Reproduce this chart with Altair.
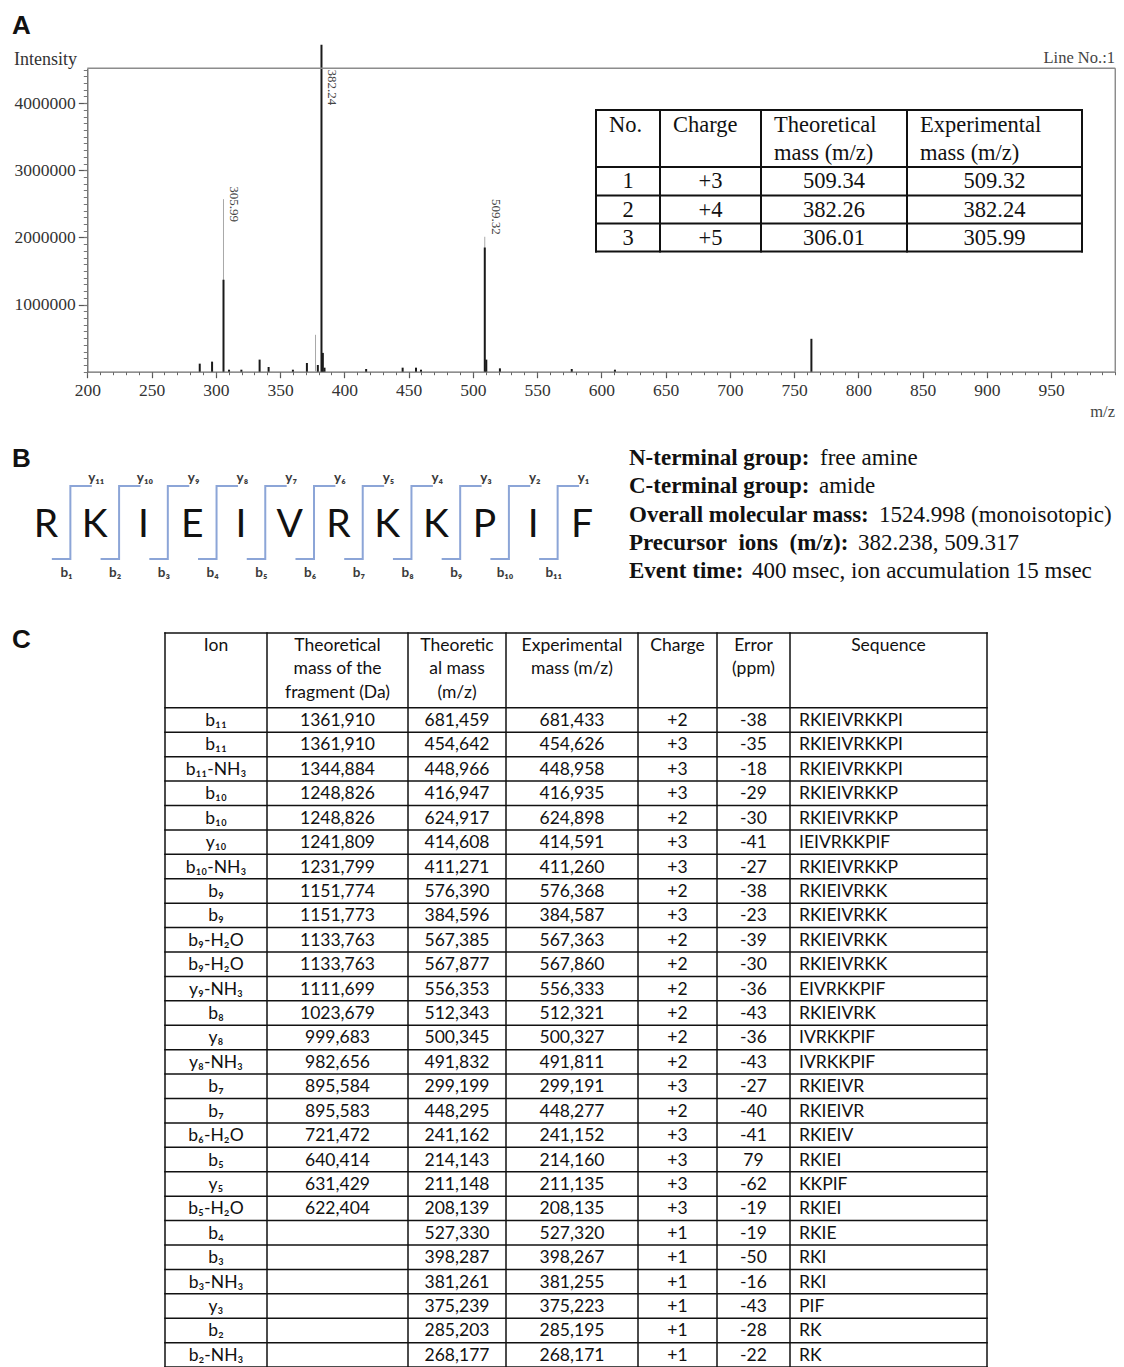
import altair as alt
import pandas as pd

# ============ DATA ============
# Panel A : MS spectrum (m/z, intensity)
profile_mz = [305.99, 377.6, 509.32]
profile_int = [2570000, 550000, 2010000]
centroid_mz = [287.5, 297.1, 305.99, 310.3, 319.9, 334.1, 341.1, 360.0, 370.9, 379.4,
               382.24, 383.3, 384.6, 417.0, 445.4, 455.8, 459.7, 509.32, 510.5, 521.1,
               577.0, 610.6, 763.5]
centroid_int = [120000, 150000, 1370000, 30000, 30000, 180000, 70000, 30000, 130000, 100000,
                4870000, 280000, 60000, 40000, 60000, 60000, 30000, 1850000, 180000, 50000,
                40000, 30000, 490000]
peak_labels = ["305.99", "382.24", "509.32"]
peak_label_mz = [305.99, 382.24, 509.32]
peak_label_int = [2230000, 3970000, 2040000]
x_ticks = list(range(200, 951, 50))
y_ticks = [1000000, 2000000, 3000000, 4000000]

# Panel A inset table
prec_head_1 = ["No.", "Charge", "Theoretical", "Experimental"]
prec_head_2 = ["", "", "mass (m/z)", "mass (m/z)"]
prec_no = ["1", "2", "3"]
prec_charge = ["+3", "+4", "+5"]
prec_theo = ["509.34", "382.26", "306.01"]
prec_exp = ["509.32", "382.24", "305.99"]

# Panel B
sequence = list("RKIEIVRKKPIF")
info_bold = ["N-terminal group:", "C-terminal group:", "Overall molecular mass:",
             "Precursor\u00a0 ions\u00a0 (m/z):", "Event time:"]
info_regular = ["free amine", "amide", "1524.998 (monoisotopic)",
                "382.238, 509.317", "400 msec, ion accumulation 15 msec"]

# Panel C table
c_header = [["Ion"], ["Theoretical", "mass of the", "fragment (Da)"],
            ["Theoretic", "al mass", "(m/z)"], ["Experimental", "mass (m/z)"],
            ["Charge"], ["Error", "(ppm)"], ["Sequence"]]
ion = ["b₁₁", "b₁₁", "b₁₁-NH₃", "b₁₀", "b₁₀", "y₁₀", "b₁₀-NH₃", "b₉", "b₉", "b₉-H₂O",
       "b₉-H₂O", "y₉-NH₃", "b₈", "y₈", "y₈-NH₃", "b₇", "b₇", "b₆-H₂O", "b₅", "y₅",
       "b₅-H₂O", "b₄", "b₃", "b₃-NH₃", "y₃", "b₂", "b₂-NH₃"]
frag_mass = ["1361,910", "1361,910", "1344,884", "1248,826", "1248,826", "1241,809",
             "1231,799", "1151,774", "1151,773", "1133,763", "1133,763", "1111,699",
             "1023,679", "999,683", "982,656", "895,584", "895,583", "721,472",
             "640,414", "631,429", "622,404", "", "", "", "", "", ""]
theo_mz = ["681,459", "454,642", "448,966", "416,947", "624,917", "414,608", "411,271",
           "576,390", "384,596", "567,385", "567,877", "556,353", "512,343", "500,345",
           "491,832", "299,199", "448,295", "241,162", "214,143", "211,148", "208,139",
           "527,330", "398,287", "381,261", "375,239", "285,203", "268,177"]
exp_mz = ["681,433", "454,626", "448,958", "416,935", "624,898", "414,591", "411,260",
          "576,368", "384,587", "567,363", "567,860", "556,333", "512,321", "500,327",
          "491,811", "299,191", "448,277", "241,152", "214,160", "211,135", "208,135",
          "527,320", "398,267", "381,255", "375,223", "285,195", "268,171"]
charge = ["+2", "+3", "+3", "+3", "+2", "+3", "+3", "+2", "+3", "+2", "+2", "+2", "+2",
          "+2", "+2", "+3", "+2", "+3", "+3", "+3", "+3", "+1", "+1", "+1", "+1", "+1", "+1"]
error_ppm = ["-38", "-35", "-18", "-29", "-30", "-41", "-27", "-38", "-23", "-39", "-30",
             "-36", "-43", "-36", "-43", "-27", "-40", "-41", "79", "-62", "-19", "-19",
             "-50", "-16", "-43", "-28", "-22"]
seq_frag = ["RKIEIVRKKPI", "RKIEIVRKKPI", "RKIEIVRKKPI", "RKIEIVRKKP", "RKIEIVRKKP",
            "IEIVRKKPIF", "RKIEIVRKKP", "RKIEIVRKK", "RKIEIVRKK", "RKIEIVRKK", "RKIEIVRKK",
            "EIVRKKPIF", "RKIEIVRK", "IVRKKPIF", "IVRKKPIF", "RKIEIVR", "RKIEIVR", "RKIEIV",
            "RKIEI", "KKPIF", "RKIEI", "RKIE", "RKI", "RKI", "PIF", "RK", "RK"]

# ============ LAYOUT (page pixels) ============
W, H = 1108, 1360
SERIF = "Liberation Serif"
SANS = "Lato"
HEAD = "Liberation Sans"


def P(v):
    return v - 8


def lin(domain, rng):
    return alt.Scale(domain=domain, range=rng, nice=False, zero=False)


XP = lin([0, 1124], [-8, 1116])      # page coordinate scales for annotations
YP = lin([0, 1367], [-8, 1359])

XA = lin([200, 1000], [P(87.3), P(1115.3)])
YA = lin([0, 4520000], [P(371.7), P(68.3)])
AX_OFF = P(371.7) - H
AY_OFF = -P(87.3)

inset_cols = [596, 660, 761, 907, 1082]
inset_rows = [110, 167, 195.5, 223.5, 251.5]
c_cols = [165, 267, 408, 506, 638, 717, 790, 987]
c_rows = [633, 707.8, 1367.1]

layers = []

# ---------- Panel A ----------
ax_x = alt.Axis(orient="bottom", offset=AX_OFF, values=x_ticks, format="d", title=None,
                grid=False, domainColor="#6a6a6a", domainWidth=1.2, tickColor="#555555",
                tickWidth=1.2, tickSize=6, labelFont=SERIF, labelFontSize=17.5,
                labelColor="#333333", labelPadding=4, labelFlush=False, labelOverlap=False)
ax_y = alt.Axis(orient="left", offset=AY_OFF, values=y_ticks, format="d", title=None,
                grid=False, domainColor="#555555", domainWidth=1.2, tickColor="#555555",
                tickWidth=1.2, tickSize=9, labelFont=SERIF, labelFontSize=17.5,
                labelColor="#333333", labelPadding=3, labelFlush=False, labelOverlap=False)
ax_x_minor = alt.Axis(orient="bottom", offset=AX_OFF, values=list(range(200, 1001, 10)),
                      labels=False, domain=False, tickSize=3, tickColor="#666666",
                      title=None, grid=False)
ax_y_minor = alt.Axis(orient="left", offset=AY_OFF, values=[i * 100000 for i in range(46)],
                      labels=False, domain=False, tickSize=4, tickColor="#777777",
                      title=None, grid=False)

prof_df = pd.DataFrame({"mz": profile_mz, "intensity": profile_int})
cent_df = pd.DataFrame({"mz": centroid_mz, "intensity": centroid_int})
lab_df = pd.DataFrame({"mz": peak_label_mz, "intensity": peak_label_int, "label": peak_labels})

layers.append(alt.Chart(prof_df).mark_rule(color="#a8a8a8", strokeWidth=1).encode(
    x=alt.X("mz:Q", scale=XA, axis=ax_x),
    y=alt.Y("intensity:Q", scale=YA, axis=ax_y),
    y2=alt.datum(0)))
layers.append(alt.Chart(cent_df).mark_rule(color="#1a1a1a", strokeWidth=2).encode(
    x=alt.X("mz:Q", scale=XA, axis=ax_x_minor),
    y=alt.Y("intensity:Q", scale=YA, axis=ax_y_minor),
    y2=alt.datum(0)))

frame_df = pd.DataFrame({"x": [200, 1000], "x2": [1000, 1000],
                         "y": [4520000, 0], "y2": [4520000, 4520000]})
layers.append(alt.Chart(frame_df).mark_rule(color="#8c8c8c", strokeWidth=1.5).encode(
    x=alt.X("x:Q", scale=XA, axis=None), x2="x2:Q",
    y=alt.Y("y:Q", scale=YA, axis=None), y2="y2:Q"))

layers.append(alt.Chart(lab_df).mark_text(angle=90, align="right", baseline="bottom", dy=-4,
                                          font=SERIF, fontSize=13, color="#444444").encode(
    x=alt.X("mz:Q", scale=XA, axis=None),
    y=alt.Y("intensity:Q", scale=YA, axis=None),
    text="label:N"))

# inset table
XT = lin(list(range(5)), [P(v) for v in inset_cols])
YT = lin(list(range(5)), [P(v) for v in inset_rows])
tl = [{"x": c, "x2": c, "y": 0, "y2": 4} for c in range(5)] + \
     [{"x": 0, "x2": 4, "y": r, "y2": r} for r in range(5)]
layers.append(alt.Chart(pd.DataFrame(tl)).mark_rule(color="#111111", strokeWidth=2,
                                                   strokeCap="square").encode(
    x=alt.X("x:Q", scale=XT, axis=None), x2="x2:Q",
    y=alt.Y("y:Q", scale=YT, axis=None), y2="y2:Q"))
ins_cells = []
for r in range(3):
    for c, col in enumerate([prec_no, prec_charge, prec_theo, prec_exp]):
        ins_cells.append({"c": c + 0.5, "r": r + 1.5, "t": col[r]})
layers.append(alt.Chart(pd.DataFrame(ins_cells)).mark_text(
    font=SERIF, fontSize=22.5, color="#111111", align="center", baseline="middle").encode(
    x=alt.X("c:Q", scale=XT, axis=None), y=alt.Y("r:Q", scale=YT, axis=None), text="t:N"))
ins_head = []
for c in range(4):
    ins_head.append({"c": c, "l": 0, "t": prec_head_1[c]})
    if prec_head_2[c]:
        ins_head.append({"c": c, "l": 1, "t": prec_head_2[c]})
YTH = lin([0, 1], [P(131.7), P(160)])
layers.append(alt.Chart(pd.DataFrame(ins_head)).mark_text(
    font=SERIF, fontSize=22.5, color="#111111", align="left", baseline="alphabetic", dx=13).encode(
    x=alt.X("c:Q", scale=XT, axis=None), y=alt.Y("l:Q", scale=YTH, axis=None), text="t:N"))

# ---------- Panel B ----------
SUB = str.maketrans("0123456789", "₀₁₂₃₄₅₆₇₈₉")
XB = lin([0, 11], [P(46), P(582)])
YB = lin([0, 1], [P(559), P(486)])
seq_df = pd.DataFrame({"i": list(range(len(sequence))), "aa": sequence})
layers.append(alt.Chart(seq_df).mark_text(font=SANS, fontSize=39, color="#111111",
                                          align="center", baseline="alphabetic").encode(
    x=alt.X("i:Q", scale=XB, axis=None), y=alt.value(P(537)), text="aa:N"))
br = []
for i in range(len(sequence) - 1):
    for k, (xx, lv) in enumerate([(i + 0.12, 0), (i + 0.5, 0), (i + 0.5, 1), (i + 0.94, 1)]):
        br.append({"b": i, "k": k, "x": xx, "lv": lv})
layers.append(alt.Chart(pd.DataFrame(br)).mark_line(color="#8ca5d7", strokeWidth=2).encode(
    x=alt.X("x:Q", scale=XB, axis=None), y=alt.Y("lv:Q", scale=YB, axis=None),
    detail="b:N", order="k:Q"))
n = len(sequence) - 1
blab = pd.DataFrame({"x": [i + 0.42 for i in range(n)],
                     "t": ["b" + str(i + 1).translate(SUB) for i in range(n)]})
ylab = pd.DataFrame({"x": [i + 1.03 for i in range(n)],
                     "t": ["y" + str(n - i).translate(SUB) for i in range(n)]})
layers.append(alt.Chart(blab).mark_text(font=SANS, fontSize=13.5, fontWeight="bold",
                                        color="#3a3a3a", baseline="middle").encode(
    x=alt.X("x:Q", scale=XB, axis=None), y=alt.value(P(573)), text="t:N"))
layers.append(alt.Chart(ylab).mark_text(font=SANS, fontSize=13.5, fontWeight="bold",
                                        color="#3a3a3a", baseline="middle").encode(
    x=alt.X("x:Q", scale=XB, axis=None), y=alt.value(P(478)), text="t:N"))

YI = lin([0, 4], [P(465), P(578.3)])
info_start = [820, 819, 879, 858, 752]
info_df = pd.DataFrame({"l": list(range(5)), "b": info_bold, "r": info_regular,
                        "x0": [629] * 5, "x1": info_start})
layers.append(alt.Chart(info_df).mark_text(font=SERIF, fontSize=23, fontWeight="bold",
                                           color="#111111", align="left",
                                           baseline="alphabetic").encode(
    x=alt.X("x0:Q", scale=XP, axis=None), y=alt.Y("l:Q", scale=YI, axis=None), text="b:N"))
layers.append(alt.Chart(info_df).mark_text(font=SERIF, fontSize=23, color="#111111",
                                           align="left", baseline="alphabetic").encode(
    x=alt.X("x1:Q", scale=XP, axis=None), y=alt.Y("l:Q", scale=YI, axis=None), text="r:N"))

# ---------- Panel C ----------
XC = lin(list(range(8)), [P(v) for v in c_cols])
YC = lin([0, 1, 28], [P(v) for v in c_rows])
nrows = len(ion)
cl = [{"x": c, "x2": c, "y": 0, "y2": nrows + 1} for c in range(8)] + \
     [{"x": 0, "x2": 7, "y": r, "y2": r} for r in range(nrows + 2)]
layers.append(alt.Chart(pd.DataFrame(cl)).mark_rule(color="#111111", strokeWidth=1.5,
                                                   strokeCap="square").encode(
    x=alt.X("x:Q", scale=XC, axis=None), x2="x2:Q",
    y=alt.Y("y:Q", scale=YC, axis=None), y2="y2:Q"))
hd = []
for c, lines in enumerate(c_header):
    for l, t in enumerate(lines):
        hd.append({"c": c + 0.5, "l": l, "t": t})
YCH = lin([0, 2], [P(646), P(692.7)])
layers.append(alt.Chart(pd.DataFrame(hd)).mark_text(font=SANS, fontSize=17.5, color="#111111",
                                                   align="center", baseline="middle").encode(
    x=alt.X("c:Q", scale=XC, axis=None), y=alt.Y("l:Q", scale=YCH, axis=None), text="t:N"))
body = []
for r in range(nrows):
    for c, col in enumerate([ion, frag_mass, theo_mz, exp_mz, charge, error_ppm]):
        if col[r]:
            body.append({"c": c + 0.5, "r": r + 1.5, "t": col[r]})
layers.append(alt.Chart(pd.DataFrame(body)).mark_text(font=SANS, fontSize=17.5, color="#111111",
                                                     align="center", baseline="middle", dy=1).encode(
    x=alt.X("c:Q", scale=XC, axis=None), y=alt.Y("r:Q", scale=YC, axis=None), text="t:N"))
seq_body = pd.DataFrame({"c": [6] * nrows, "r": [r + 1.5 for r in range(nrows)], "t": seq_frag})
layers.append(alt.Chart(seq_body).mark_text(font=SANS, fontSize=17.5, color="#111111",
                                           align="left", baseline="middle", dx=9, dy=1).encode(
    x=alt.X("c:Q", scale=XC, axis=None), y=alt.Y("r:Q", scale=YC, axis=None), text="t:N"))

# ---------- annotations ----------
panel_df = pd.DataFrame({"t": ["A", "B", "C"], "x": [12, 12, 12], "y": [34, 467, 648]})
layers.append(alt.Chart(panel_df).mark_text(font=HEAD, fontSize=26, fontWeight="bold",
                                           color="#111111", align="left",
                                           baseline="alphabetic").encode(
    x=alt.X("x:Q", scale=XP, axis=None), y=alt.Y("y:Q", scale=YP, axis=None), text="t:N"))
ann_left = pd.DataFrame({"t": ["Intensity"], "x": [14], "y": [65]})
layers.append(alt.Chart(ann_left).mark_text(font=SERIF, fontSize=18, color="#333333",
                                           align="left", baseline="alphabetic").encode(
    x=alt.X("x:Q", scale=XP, axis=None), y=alt.Y("y:Q", scale=YP, axis=None), text="t:N"))
ann_right = pd.DataFrame({"t": ["Line No.:1", "m/z"], "x": [1115, 1115], "y": [63, 417]})
layers.append(alt.Chart(ann_right).mark_text(font=SERIF, fontSize=16.5, color="#444444",
                                            align="right", baseline="alphabetic").encode(
    x=alt.X("x:Q", scale=XP, axis=None), y=alt.Y("y:Q", scale=YP, axis=None), text="t:N"))

chart = alt.layer(*layers).resolve_scale(x="independent", y="independent").properties(
    width=W, height=H, autosize=alt.AutoSizeParams(type="none"), padding=0
).configure_view(strokeWidth=0)

chart.save("out.html", embed_options={"renderer": "svg", "actions": False})
